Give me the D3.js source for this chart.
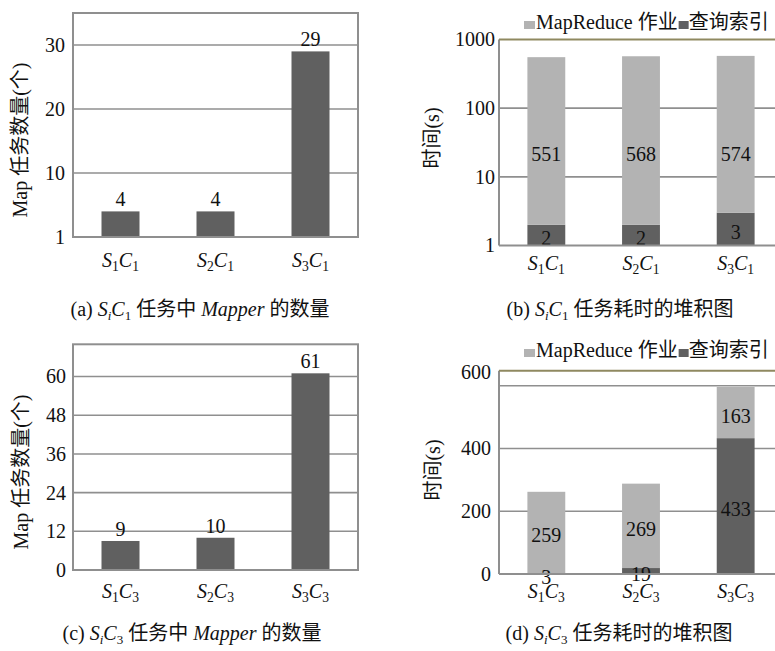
<!DOCTYPE html>
<html>
<head>
<meta charset="utf-8">
<script src="https://cdn.jsdelivr.net/npm/d3@7"></script>
<style>
  body { margin: 0; background: #fff; }
  svg { display: block; }
</style>
</head>
<body>
<svg id="fig" width="775" height="651"></svg>
<script>
// ---- data ----
const catsC1 = ["S1C1", "S2C1", "S3C1"];
const catsC3 = ["S1C3", "S2C3", "S3C3"];

const mapperC1 = [4, 4, 29];          // number of Map tasks, SiC1
const mapperC3 = [9, 10, 61];         // number of Map tasks, SiC3

const indexC1 = [2, 2, 3];            // query-index time (s), SiC1
const mrJobC1 = [551, 568, 574];      // MapReduce job time (s), SiC1
const indexC3 = [3, 19, 433];         // query-index time (s), SiC3
const mrJobC3 = [259, 269, 163];      // MapReduce job time (s), SiC3

const ticksA = [0, 10, 20, 30];
const tickLabelsA = ["1", "10", "20", "30"];
const ticksB = [1, 10, 100, 1000];
const tickLabelsB = ["1", "10", "100", "1000"];
const ticksC = [0, 12, 24, 36, 48, 60];
const tickLabelsC = ["0", "12", "24", "36", "48", "60"];
const ticksD = [0, 200, 400, 600];
const tickLabelsD = ["0", "200", "400", "600"];

const legendLabels = ["MapReduce 作业", "查询索引"];
const yTitleCount = "Map 任务数量(个)";
const yTitleTime = "时间(s)";

// ---- style ----
const FONT = '"Liberation Serif", "Times New Roman", Times, "Noto Sans CJK SC", serif';
const DARK = "#606060";
const LIGHT = "#b3b3b3";
const GRID = "#8f8f8f";
const OLIVE = "#8f8960";
const FS = 20;

const svg = d3.select("#fig").style("font-family", FONT);

function txt(sel) {
  return sel.append("text").style("font-family", FONT).attr("font-size", FS).attr("fill", "#111");
}

// category label like "S1C3": italic letters, upright subscript digits
function catLabel(sel, code) {
  const parts = code.match(/[A-Z]\d/g);
  parts.forEach((p, k) => {
    sel.append("tspan").attr("font-style", "italic").attr("dy", k > 0 ? -4 : 0).text(p[0]);
    sel.append("tspan").attr("font-size", FS * 0.68).attr("dy", 4).text(p[1]);
  });
}

function grid(g, cfg, y) {
  g.selectAll("line.grid")
    .data(cfg.ticks.filter(t => y(t) < cfg.yBot - 1 && y(t) > cfg.yTop + 1))
    .join("line").attr("class", "grid")
    .attr("x1", cfg.x0).attr("x2", cfg.x1)
    .attr("y1", d => y(d)).attr("y2", d => y(d))
    .attr("stroke", GRID).attr("stroke-width", 1.6);
}

function yAxisLabels(g, cfg, y) {
  const axis = d3.axisLeft(y).tickValues(cfg.ticks).tickSize(0).tickPadding(0)
    .tickFormat((d, i) => cfg.tickLabels[i]);
  const ax = g.append("g").attr("transform", `translate(${cfg.x0 - cfg.labelGap},0)`).call(axis);
  ax.attr("font-family", null).attr("font-size", null);
  ax.select(".domain").remove();
  ax.selectAll("text").style("font-family", FONT).attr("font-size", FS).attr("fill", "#111");
  if (cfg.pinTopLabel) {
    // the highest tick label sits on the top frame line
    const last = cfg.ticks[cfg.ticks.length - 1];
    ax.selectAll(".tick").filter(d => d === last)
      .attr("transform", `translate(0,${cfg.yTop + 2})`);
  }
}

function xLabels(g, cfg, x) {
  cfg.cats.forEach(c => {
    const t = txt(g)
      .attr("x", x(c) + x.bandwidth() / 2)
      .attr("y", cfg.xLabelY)
      .attr("text-anchor", "middle");
    catLabel(t, c);
  });
}

function yTitle(g, text, cx, cy) {
  txt(g)
    .attr("transform", `translate(${cx},${cy}) rotate(-90)`)
    .attr("text-anchor", "middle")
    .attr("dy", "0.35em")
    .text(text);
}

// ---- simple bar panel (a, c) ----
function countPanel(cfg) {
  const g = svg.append("g");
  const x = d3.scaleBand().domain(cfg.cats).range([cfg.x0, cfg.x1]).paddingInner(0.6).paddingOuter(0.3);
  const y = d3.scaleLinear().domain(cfg.domain).range([cfg.yBot, cfg.yTop]);
  grid(g, cfg, y);
  g.selectAll("rect.bar").data(cfg.values).join("rect").attr("class", "bar")
    .attr("x", (d, i) => x(cfg.cats[i]))
    .attr("width", x.bandwidth())
    .attr("y", d => y(d))
    .attr("height", d => cfg.yBot - y(d))
    .attr("fill", DARK);
  cfg.values.forEach((v, i) => {
    txt(g)
      .attr("x", x(cfg.cats[i]) + x.bandwidth() / 2)
      .attr("y", y(v) - 5)
      .attr("text-anchor", "middle")
      .text(v);
  });
  // frame box
  g.append("rect").attr("x", cfg.x0).attr("y", cfg.yTop)
    .attr("width", cfg.x1 - cfg.x0).attr("height", cfg.yBot - cfg.yTop)
    .attr("fill", "none").attr("stroke", GRID).attr("stroke-width", 2);
  yAxisLabels(g, cfg, y);
  xLabels(g, cfg, x);
  yTitle(g, yTitleCount, cfg.titleX, cfg.titleY);
}

// ---- stacked time panel (b, d) ----
function timePanel(cfg) {
  const g = svg.append("g");
  const x = d3.scaleBand().domain(cfg.cats).range([cfg.x0, cfg.x1]).paddingInner(0.6).paddingOuter(0.3);
  const y = cfg.log
    ? d3.scaleLog().domain(cfg.domain).range([cfg.yBot, cfg.yTop])
    : d3.scaleLinear().domain(cfg.domain).range([cfg.yBot, cfg.yTop]);
  const base = cfg.domain[0];
  grid(g, cfg, y);

  const rows = cfg.cats.map((c, i) => ({ c, index: cfg.index[i], job: cfg.job[i] }));
  const layers = d3.stack().keys(["index", "job"])(rows);
  const fills = { index: DARK, job: LIGHT };

  layers.forEach(layer => {
    g.selectAll(null).data(layer).join("rect")
      .attr("x", d => x(d.data.c))
      .attr("width", x.bandwidth())
      .attr("y", d => y(d[1]))
      .attr("height", d => y(Math.max(d[0], base)) - y(d[1]))
      .attr("fill", fills[layer.key]);
  });
  layers.forEach(layer => {
    layer.forEach(d => {
      // log axis: label at the middle of the drawn column up to this segment's top
      const lo = cfg.log ? y(base) : y(d[0]);
      txt(g)
        .attr("x", x(d.data.c) + x.bandwidth() / 2)
        .attr("y", (lo + y(d[1])) / 2 + 3)
        .attr("dy", "0.35em")
        .attr("text-anchor", "middle")
        .text(d.data[layer.key]);
    });
  });

  // frame: grey left and bottom, olive top
  g.append("line").attr("x1", cfg.x0).attr("x2", cfg.x0).attr("y1", cfg.yTop).attr("y2", cfg.yBot)
    .attr("stroke", GRID).attr("stroke-width", 2);
  g.append("line").attr("x1", cfg.x0).attr("x2", cfg.x1).attr("y1", cfg.yBot).attr("y2", cfg.yBot)
    .attr("stroke", GRID).attr("stroke-width", 2);
  g.append("line").attr("x1", cfg.x0).attr("x2", cfg.x1).attr("y1", cfg.yTop).attr("y2", cfg.yTop)
    .attr("stroke", OLIVE).attr("stroke-width", 2);

  yAxisLabels(g, cfg, y);
  xLabels(g, cfg, x);
  yTitle(g, yTitleTime, cfg.titleX, cfg.titleY);

  // legend
  const lx = cfg.legendX, ly = cfg.legendY;
  g.append("rect").attr("x", lx).attr("y", ly - 8).attr("width", 11).attr("height", 8).attr("fill", LIGHT);
  const t1 = txt(g).attr("x", lx + 12).attr("y", ly).text(legendLabels[0]);
  const w1 = t1.node().getComputedTextLength();
  g.append("rect").attr("x", lx + 12 + w1 + 1).attr("y", ly - 8).attr("width", 10).attr("height", 8).attr("fill", DARK);
  txt(g).attr("x", lx + 12 + w1 + 11).attr("y", ly).text(legendLabels[1]);
}

// ---- captions ----
function caption(cx, cy, letter, sub, tail) {
  const t = txt(svg).attr("x", cx).attr("y", cy).attr("text-anchor", "middle");
  t.append("tspan").text(`(${letter}) `);
  t.append("tspan").attr("font-style", "italic").text("S");
  t.append("tspan").attr("font-style", "italic").attr("font-size", 13).attr("dy", 4).text("i");
  t.append("tspan").attr("font-style", "italic").attr("dy", -4).text("C");
  t.append("tspan").attr("font-size", 13).attr("dy", 4).text(sub);
  tail.forEach((s, i) => {
    const ts = t.append("tspan").text(s.text);
    if (i === 0) ts.attr("dy", -4);
    if (s.italic) ts.attr("font-style", "italic");
  });
}

countPanel({
  cats: catsC1, values: mapperC1, domain: [0, 35],
  ticks: ticksA, tickLabels: tickLabelsA,
  x0: 73, x1: 358, yTop: 13, yBot: 237, labelGap: 8,
  xLabelY: 267, titleX: 20, titleY: 140
});

timePanel({
  cats: catsC1, index: indexC1, job: mrJobC1, log: true, domain: [1, 1000],
  ticks: ticksB, tickLabels: tickLabelsB,
  x0: 499, x1: 783, yTop: 39.5, yBot: 245.5, labelGap: 4,
  xLabelY: 270, titleX: 432, titleY: 138,
  legendX: 524, legendY: 29
});

countPanel({
  cats: catsC3, values: mapperC3, domain: [0, 70],
  ticks: ticksC, tickLabels: tickLabelsC,
  x0: 73, x1: 358, yTop: 344.3, yBot: 570, labelGap: 7,
  xLabelY: 598, titleX: 21, titleY: 472
});

timePanel({
  cats: catsC3, index: indexC3, job: mrJobC3, log: false, domain: [0, 648],
  ticks: ticksD, tickLabels: tickLabelsD, pinTopLabel: true,
  x0: 499, x1: 783, yTop: 370.7, yBot: 574, labelGap: 8,
  xLabelY: 598, titleX: 433, titleY: 470,
  legendX: 524, legendY: 357
});

caption(200, 316, "a", "1", [{ text: " 任务中 " }, { text: "Mapper", italic: true }, { text: " 的数量" }]);
caption(620, 316, "b", "1", [{ text: " 任务耗时的堆积图" }]);
caption(192, 640, "c", "3", [{ text: " 任务中 " }, { text: "Mapper", italic: true }, { text: " 的数量" }]);
caption(619, 640, "d", "3", [{ text: " 任务耗时的堆积图" }]);
</script>
</body>
</html>
